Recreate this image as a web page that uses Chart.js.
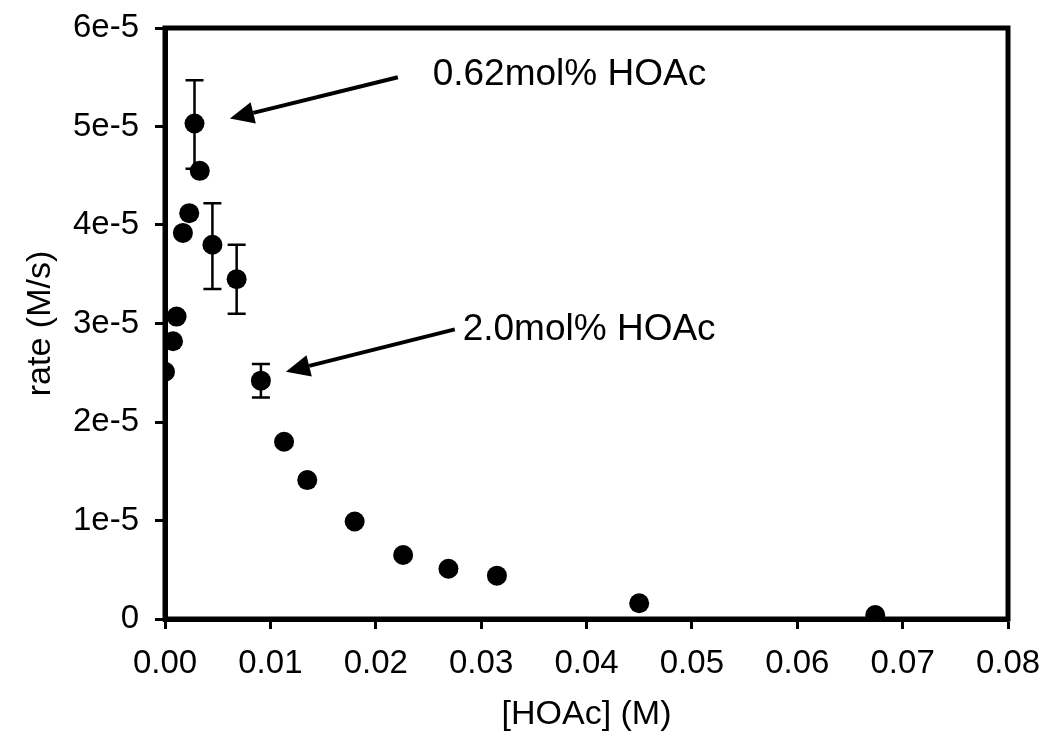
<!DOCTYPE html>
<html>
<head>
<meta charset="utf-8">
<script src="https://cdn.jsdelivr.net/npm/chart.js@4"></script>
<style>
  html, body { margin: 0; padding: 0; background: #fff; }
  #wrap { width: 1050px; height: 748px; }
</style>
</head>
<body>
<div id="wrap"><canvas id="chart"></canvas></div>
<script>
// [HOAc] (M) and rate (M/s)
const hoac = [0.0, 0.00076, 0.0011, 0.0017, 0.0023, 0.0028, 0.0033, 0.0045, 0.0068,
  0.0091, 0.0113, 0.0135, 0.018, 0.0226, 0.0269, 0.0315, 0.045, 0.0674];
const rate = [2.51e-5, 2.82e-5, 3.07e-5, 3.92e-5, 4.12e-5, 5.03e-5, 4.55e-5, 3.8e-5, 3.45e-5,
  2.42e-5, 1.8e-5, 1.41e-5, 0.99e-5, 0.65e-5, 0.51e-5, 0.44e-5, 0.16e-5, 0.04e-5];

// error bars (index into the arrays above)
const errIndex = [5, 7, 8, 9];
const errUpper = [5.47e-5, 4.22e-5, 3.8e-5, 2.59e-5];
const errLower = [4.57e-5, 3.35e-5, 3.1e-5, 2.25e-5];

// annotations, in data units
const noteText = ["0.62mol% HOAc", "2.0mol% HOAc"];
const noteTextX = [0.0254, 0.02825];
const noteTextY = [5.52e-5, 2.94e-5];
const arrowTailX = [0.0221, 0.0275];
const arrowTailY = [5.5e-5, 2.94e-5];
const arrowTipX = [0.00616, 0.01147];
const arrowTipY = [5.08e-5, 2.51e-5];

const points = hoac.map((x, i) => ({ x: x, y: rate[i] }));

const errorBars = {
  id: "errorBars",
  beforeDatasetsDraw(chart) {
    const ctx = chart.ctx;
    const xs = chart.scales.x, ys = chart.scales.y;
    ctx.save();
    ctx.strokeStyle = "#000";
    ctx.lineWidth = 2.5;
    errIndex.forEach((idx, k) => {
      const px = xs.getPixelForValue(hoac[idx]);
      const top = ys.getPixelForValue(errUpper[k]);
      const bot = ys.getPixelForValue(errLower[k]);
      ctx.beginPath();
      ctx.moveTo(px, top); ctx.lineTo(px, bot);
      ctx.moveTo(px - 9, top); ctx.lineTo(px + 9, top);
      ctx.moveTo(px - 9, bot); ctx.lineTo(px + 9, bot);
      ctx.stroke();
    });
    ctx.restore();
  },
};

const notes = {
  id: "notes",
  afterDraw(chart) {
    const ctx = chart.ctx;
    const xs = chart.scales.x, ys = chart.scales.y;
    const a = chart.chartArea;
    ctx.save();
    // box around the plot
    ctx.strokeStyle = "#000";
    ctx.lineWidth = 5;
    ctx.strokeRect(a.left, a.top, a.right - a.left, a.bottom - a.top);

    noteText.forEach((t, i) => {
      const x1 = xs.getPixelForValue(arrowTailX[i]);
      const y1 = ys.getPixelForValue(arrowTailY[i]);
      const x2 = xs.getPixelForValue(arrowTipX[i]);
      const y2 = ys.getPixelForValue(arrowTipY[i]);
      const ang = Math.atan2(y2 - y1, x2 - x1);
      const headLen = 24, headW = 11;
      const bx = x2 - headLen * Math.cos(ang), by = y2 - headLen * Math.sin(ang);
      ctx.lineWidth = 4;
      ctx.beginPath();
      ctx.moveTo(x1, y1);
      ctx.lineTo(bx, by);
      ctx.stroke();
      ctx.beginPath();
      ctx.moveTo(x2, y2);
      ctx.lineTo(bx + headW * Math.sin(ang), by - headW * Math.cos(ang));
      ctx.lineTo(bx - headW * Math.sin(ang), by + headW * Math.cos(ang));
      ctx.closePath();
      ctx.fillStyle = "#000";
      ctx.fill();

      ctx.font = "37px 'Liberation Sans', Arial, sans-serif";
      ctx.textAlign = "left";
      ctx.textBaseline = "middle";
      ctx.fillText(t, xs.getPixelForValue(noteTextX[i]), ys.getPixelForValue(noteTextY[i]));
    });
    ctx.restore();
  },
};

const tickFont = { family: "'Liberation Sans', Arial, sans-serif", size: 33 };
const titleFont = { family: "'Liberation Sans', Arial, sans-serif", size: 34 };

new Chart(document.getElementById("chart"), {
  type: "scatter",
  data: {
    datasets: [
      {
        data: points,
        pointRadius: 10,
        pointHoverRadius: 10,
        pointBackgroundColor: "#000",
        pointBorderColor: "#000",
        pointBorderWidth: 0,
      },
    ],
  },
  options: {
    responsive: true,
    maintainAspectRatio: false,
    animation: false,
    layout: { padding: { left: 0, top: 28, right: 42, bottom: 0 } },
    plugins: {
      legend: { display: false },
      tooltip: { enabled: false },
    },
    scales: {
      x: {
        type: "linear",
        min: 0,
        max: 0.08,
        afterFit: (s) => {
          s.height = 129;
          s.paddingLeft = 0;
          s.paddingRight = 0;
        },
        ticks: {
          stepSize: 0.01,
          color: "#000",
          font: tickFont,
          padding: 15,
          maxRotation: 0,
          callback: (v) => v.toFixed(2),
        },
        grid: {
          drawOnChartArea: false,
          drawTicks: true,
          tickLength: 10,
          tickWidth: 3,
          tickColor: "#000",
        },
        border: { display: true, color: "#000", width: 5 },
        title: {
          display: true,
          text: "[HOAc] (M)",
          color: "#000",
          font: titleFont,
          padding: { top: 0, bottom: 13 },
        },
      },
      y: {
        type: "linear",
        min: 0,
        max: 6e-5,
        afterFit: (s) => {
          s.width = 165;
          s.paddingTop = 0;
          s.paddingBottom = 0;
        },
        ticks: {
          stepSize: 1e-5,
          color: "#000",
          font: tickFont,
          padding: 16,
          callback: (v) => (Math.abs(v) < 1e-9 ? "0" : Math.round(v / 1e-5) + "e-5"),
        },
        grid: {
          drawOnChartArea: false,
          drawTicks: true,
          tickLength: 10,
          tickWidth: 3,
          tickColor: "#000",
        },
        border: { display: true, color: "#000", width: 5 },
        title: {
          display: true,
          text: "rate (M/s)",
          color: "#000",
          font: titleFont,
          padding: { top: 20, bottom: 0 },
        },
      },
    },
  },
  plugins: [errorBars, notes],
});
</script>
</body>
</html>
